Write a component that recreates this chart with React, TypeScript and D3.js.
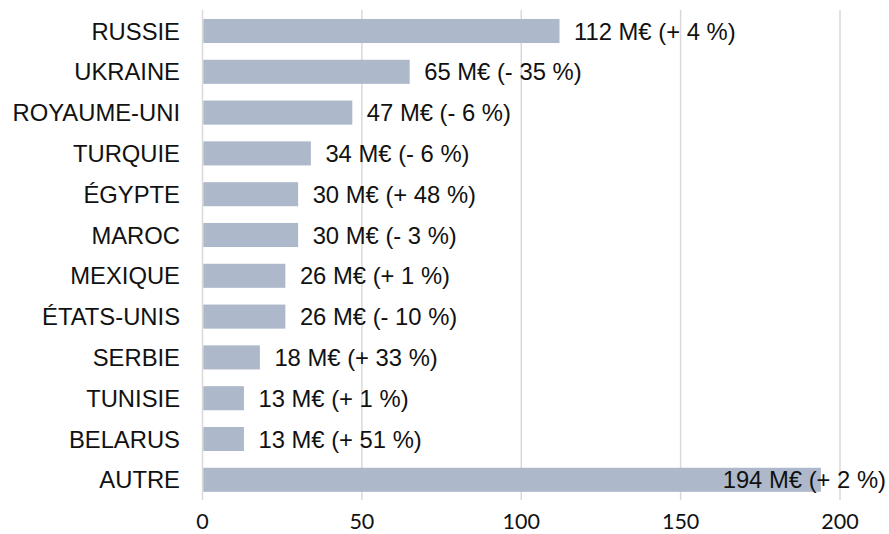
import React from "react";
import * as d3 from "d3";

const categories = ["RUSSIE", "UKRAINE", "ROYAUME-UNI", "TURQUIE", "ÉGYPTE", "MAROC", "MEXIQUE", "ÉTATS-UNIS", "SERBIE", "TUNISIE", "BELARUS", "AUTRE"];
const values = [112, 65, 47, 34, 30, 30, 26, 26, 18, 13, 13, 194];
const changes = ["+ 4 %", "- 35 %", "- 6 %", "- 6 %", "+ 48 %", "- 3 %", "+ 1 %", "- 10 %", "+ 33 %", "+ 1 %", "+ 51 %", "+ 2 %"];
const ticks = [0, 50, 100, 150, 200];

const W = 889;
const H = 534;

export default function App() {
  const x = d3.scaleLinear().domain([0, 200]).range([202.5, 840]);
  const y = d3.scaleBand<string>().domain(categories).range([10.6, 500.2]).paddingInner(0.41).paddingOuter(0.205);
  const labelFont = "'Liberation Sans', Arial, sans-serif";
  const fs = 23.8;
  return (
    <svg width={W} height={H} style={{ position: "absolute", left: 0, top: 0, background: "#fff" }}>
      {ticks.map((t) => (
        <line key={"g" + t} x1={x(t)} x2={x(t)} y1={10} y2={500} stroke="#d9d9d9" strokeWidth={1.5} />
      ))}
      {categories.map((c, i) => (
        <rect key={"b" + c} x={x(0) + 0.8} y={y(c)!} width={x(values[i]) - x(0) - 0.8} height={y.bandwidth()} fill="#adb9cb" />
      ))}
      {categories.map((c, i) => (
        <text key={"l" + c} x={180} y={y(c)! + y.bandwidth() / 2} dy="0.36em" textAnchor="end" fontFamily={labelFont} fontSize={fs} fill="#111">
          {c}
        </text>
      ))}
      {categories.map((c, i) => {
        const label = `${values[i]} M€ (${changes[i]})`;
        const start = x(values[i]) + 14.5;
        const estW = label.length * fs * 0.49;
        const overflow = start + estW > 887;
        return (
          <text key={"v" + c} x={overflow ? 886 : start} y={y(c)! + y.bandwidth() / 2} dy="0.36em" textAnchor={overflow ? "end" : "start"} fontFamily={labelFont} fontSize={fs} fill="#111">
            {label}
          </text>
        );
      })}
      {ticks.map((t) => (
        <text key={"t" + t} x={x(t)} y={529} textAnchor="middle" fontFamily="Lato, 'Open Sans', sans-serif" fontSize={21.5} fill="#111">
          {t}
        </text>
      ))}
    </svg>
  );
}
